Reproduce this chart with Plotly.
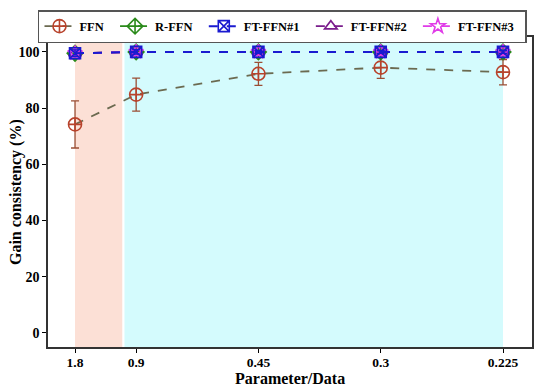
import plotly.graph_objects as go

params = [1.8, 0.9, 0.45, 0.3, 0.225]
tick_labels = ["1.8", "0.9", "0.45", "0.3", "0.225"]

ffn = [74.2, 84.8, 92.2, 94.4, 92.8]
ffn_err = [8.4, 5.9, 4.1, 3.8, 4.5]
rffn = [99.5, 100.0, 100.0, 100.0, 100.0]
rffn_err = [1.2, 0.8, 0.5, 0.5, 0.5]
ft1 = [99.5, 100.0, 100.0, 100.0, 100.0]
ft1_err = [1.2, 0.8, 0.5, 0.5, 0.5]
ft2 = [99.5, 100.0, 100.0, 100.0, 100.0]
ft2_err = [1.0, 0.6, 0.4, 0.4, 0.4]
ft3 = [99.5, 100.0, 100.0, 100.0, 100.0]
ft3_err = [1.0, 0.6, 0.4, 0.4, 0.4]

x = [1.0 / p for p in params]

font = "Liberation Serif, Times New Roman, serif"
pad = "\u00a0\u00a0"

fig = go.Figure()

# shaded regions
fig.add_shape(type="rect", xref="x", yref="paper", x0=x[0], x1=0.985, y0=0, y1=1,
              fillcolor="#fce0d6", line_width=0, layer="below")
fig.add_shape(type="rect", xref="x", yref="paper", x0=1.005, x1=x[-1], y0=0, y1=1,
              fillcolor="#d4fbfd", line_width=0, layer="below")

series = [
    ("FFN", ffn, ffn_err, "#b8432c", "#6b6a50", "#9a4e34", "circle-cross-open", 13, 1),
    ("R-FFN", rffn, rffn_err, "#2a8a1a", "#2a8a1a", "#2a8a1a", "diamond-cross-open", 12, 2),
    ("FT-FFN#2", ft2, ft2_err, "#7a1d8c", "#7a1d8c", "#7a1d8c", "triangle-up-open", 11, 4),
    ("FT-FFN#3", ft3, ft3_err, "#e03ce8", "#e03ce8", "#e03ce8", "star-open", 11, 5),
    ("FT-FFN#1", ft1, ft1_err, "#1a1ad0", "#1a1ad0", "#1a1ad0", "square-x-open", 11, 3),
]

for name, y, err, mcol, lcol, ecol, sym, size, rank in series:
    fig.add_trace(go.Scatter(
        x=x, y=y, name=name + pad, mode="lines+markers", legendrank=rank,
        line=dict(color=lcol, width=1.8 if name != "FT-FFN#1" else 2, dash="dash"),
        marker=dict(symbol=sym, size=size, color=mcol, line=dict(width=1.6, color=mcol)),
        error_y=dict(type="data", array=err, visible=True, color=ecol, thickness=1.3, width=4),
    ))

fig.update_layout(
    width=542, height=383,
    paper_bgcolor="white", plot_bgcolor="white",
    margin=dict(l=40, r=18, t=29, b=44, autoexpand=False),
    font=dict(family=font, size=13, color="black"),
    legend=dict(orientation="h", x=-0.0207, xanchor="left", y=1.087, yanchor="top",
                bordercolor="#555555", borderwidth=1.5,
                font=dict(family=font, size=12.5, color="black", weight="bold"),
                itemwidth=30, tracegroupgap=0),
    showlegend=True,
    annotations=[
        dict(text="Parameter/Data", xref="paper", yref="paper", x=0.5, y=-0.103,
             xanchor="center", yanchor="middle", showarrow=False,
             font=dict(family=font, size=16, color="black", weight="bold")),
        dict(text="Gain consistency (%)", xref="paper", x=-0.066, yref="paper", y=0.5,
             xanchor="center", yanchor="middle", textangle=-90, showarrow=False,
             font=dict(family=font, size=16, color="black", weight="bold")),
    ],
)

fig.update_xaxes(
    range=[0.31, 4.708], tickvals=x, ticktext=tick_labels,
    ticks="outside", ticklen=4, tickwidth=1.2, tickcolor="black",
    showline=True, linecolor="#333333", linewidth=1.5, mirror=True,
    showgrid=False, zeroline=False, automargin=False, ticklabelstandoff=-2,
    tickfont=dict(family=font, size=13.5, color="black", weight="bold"),
)
fig.update_yaxes(
    range=[-5, 105.3], tickvals=[0, 20, 40, 60, 80, 100],
    ticks="outside", ticklen=4, tickwidth=1.2, tickcolor="black",
    showline=True, linecolor="#333333", linewidth=1.5, mirror=True,
    showgrid=False, zeroline=False, automargin=False,
    tickfont=dict(family=font, size=14, color="black", weight="bold"),
)

fig.write_html("out.html")
